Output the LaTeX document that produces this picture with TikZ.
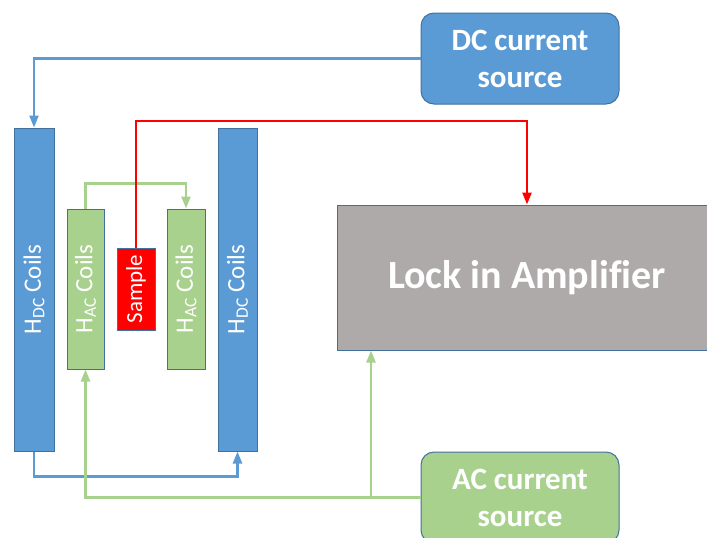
\documentclass[tikz,border=0pt]{standalone}
\usepackage{fontspec}
\setmainfont{Carlito}[Ligatures=NoCommon]
\usetikzlibrary{arrows.meta}
\definecolor{pblue}{HTML}{5B9BD5}
\definecolor{pgreen}{HTML}{A9D18E}
\definecolor{pgray}{HTML}{AEAAAA}
\definecolor{pborder}{HTML}{41719C}
\definecolor{pred}{HTML}{FF0000}
\tikzset{
  coil/.style={draw=pborder, line width=1pt, inner sep=0pt, text=white,
    font=\fontsize{25}{28}\selectfont},
  dccoil/.style={coil, fill=pblue},
  accoil/.style={coil, fill=pgreen},
  samplebox/.style={coil, fill=pred, font=\fontsize{23}{25}\selectfont},
  srcbox/.style={draw=pborder, line width=1pt, rounded corners=13pt, text=white,
    align=center, minimum width=198pt, minimum height=91pt, inner sep=0pt,
    font=\bfseries\fontsize{31}{37}\selectfont},
  wire/.style={line width=2.5pt, -{Triangle[length=12pt,width=9pt]}},
}
\begin{document}
\begin{tikzpicture}[x=1pt,y=-1pt]
\useasboundingbox (0,0) rectangle (707,538);
\begin{scope}
\clip (0,0) rectangle (707,538);
% coils
\node[dccoil, minimum width=40pt, minimum height=323pt] (D1) at (34,289.5)
  {\rotatebox{90}{H\textsubscript{DC} Coils}};
\node[dccoil, minimum width=39pt, minimum height=323pt] (D2) at (237.5,289.5)
  {\rotatebox{90}{H\textsubscript{DC} Coils}};
\node[accoil, minimum width=37pt, minimum height=160pt] (A1) at (85.5,289)
  {\rotatebox{90}{H\textsubscript{AC} Coils}};
\node[accoil, minimum width=38pt, minimum height=160pt] (A2) at (186,289)
  {\rotatebox{90}{H\textsubscript{AC} Coils}};
\node[samplebox, minimum width=38pt, minimum height=82pt] (S) at (136,289)
  {\rotatebox{90}{Sample}};
% lock-in
\node[draw=pborder, line width=1pt, fill=pgray, text=white, inner sep=0pt,
  minimum width=380pt, minimum height=145pt,
  font=\bfseries\fontsize{40}{44}\selectfont] (L) at (527,277.5) {Lock in Amplif\kern0pt ier};
% sources
\node[srcbox, fill=pblue] (DC) at (520,58.5) {DC current\\source};
\node[srcbox, fill=pgreen] (AC) at (520,497.5) {AC current\\source};
% connectors
\draw[wire, pblue] (DC.west) -| (D1.north);
\draw[wire, pblue] (D1.south) -- ++(0,25) -| (D2.south);
\draw[wire, pgreen] (A1.north) -- ++(0,-25) -| (A2.north);
\coordinate (r1) at (527,121);
\draw[wire, pred] (S.north) |- (r1) -- (r1 |- L.north);
\coordinate (g1) at (371,497.5);
\draw[wire, pgreen] (AC.west) -| (A1.south);
\draw[wire, pgreen] (g1) -- (g1 |- L.south);
\end{scope}
\end{tikzpicture}
\end{document}
